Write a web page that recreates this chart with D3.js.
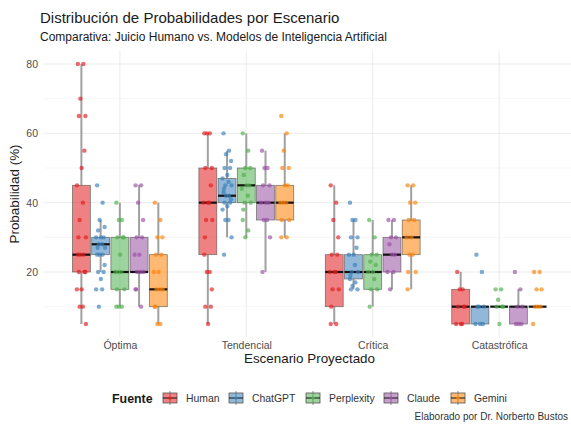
<!DOCTYPE html>
<html>
<head>
<meta charset="utf-8">
<script src="https://cdn.jsdelivr.net/npm/d3@7"></script>
<style>
  body { margin: 0; background: #fff; }
  svg { font-family: "Liberation Sans", Arial, sans-serif; }
</style>
</head>
<body>
<svg id="chart" width="571" height="433"></svg>
<script>
// scenarios and sources
var scenarios = ["Óptima", "Tendencial", "Crítica", "Catastrófica"]
var sources = ["Human", "ChatGPT", "Perplexity", "Claude", "Gemini"]
var colors = ["#E41A1C", "#377EB8", "#4DAF4A", "#984EA3", "#FF7F00"]
var yTicks = [20, 40, 60, 80]

// individual answers per source, one list per scenario
var humanVals = [
  [80,80,70,65,65,55,50,45,40,35,30,30,25,25,25,20,20,20,15,15,10,10,5],
  [60,60,60,50,50,45,40,40,40,35,35,30,25,20,20,15,10,10,5],
  [45,40,35,30,25,25,20,20,20,15,15,10,5,5],
  [20,15,15,10,10,10,5,5,5]
]
var chatgptVals = [
  [45,40,35,33,32,30,30,30,28,28,27,27,25,25,25,22,20,20,18,15,15,10],
  [60,55,54,52,50,50,48,47,46,45,45,44,43,42,42,41,40,40,39,38,35,35,30,25],
  [40,35,35,30,30,27,25,25,22,20,20,19,18,17,16,15,15],
  [25,20,10,10,10,5,5,5]
]
var perplexityVals = [
  [40,35,35,30,30,30,25,20,20,20,15,15,10,10,10],
  [60,55,50,50,48,45,45,44,42,40,40,38,35,32,30],
  [35,30,25,25,23,22,20,20,18,15,15,10],
  [15,15,12,10,10,10,5]
]
var claudeVals = [
  [45,45,40,35,30,30,25,25,20,20,20,15,15,10],
  [55,50,50,45,45,40,40,40,35,35,30,20],
  [35,35,30,30,28,25,25,20,20,15],
  [20,15,10,10,5,5,5]
]
var geminiVals = [
  [40,35,30,30,25,25,20,20,15,15,15,10,10,5,5],
  [65,60,55,50,50,45,45,40,40,40,35,35,30,30],
  [45,45,40,40,35,35,30,30,25,25,20,20,15],
  [20,20,15,15,10,10,10,5]
]

// box summaries: [whisker low, q1, median, q3, whisker high]
var humanBox = [[5,20,25,45,80], [5,25,40,50,60], [5,10,20,25,45], [5,5,10,15,20]]
var chatgptBox = [[20,25,28,30,35], [30,40,42,47,55], [15,18,20,25,35], [5,5,10,10,10]]
var perplexityBox = [[10,15,20,30,40], [30,40,45,50,60], [10,15,20,25,35], [10,10,10,10,10]]
var claudeBox = [[10,20,20,30,45], [20,35,40,45,55], [15,20,25,30,35], [5,5,10,10,15]]
var geminiBox = [[5,10,15,25,40], [30,35,40,45,60], [15,25,30,35,45], [10,10,10,10,10]]

var allVals = [humanVals, chatgptVals, perplexityVals, claudeVals, geminiVals]
var allBoxes = [humanBox, chatgptBox, perplexityBox, claudeBox, geminiBox]

var svg = d3.select("#chart")

var panel = {left: 44, right: 575, top: 51, bottom: 337}

var x = d3.scalePoint().domain(scenarios).range([panel.left, panel.right]).padding(0.6)
var dodge = d3.scaleBand().domain(sources)
  .range([-x.step() * 0.375, x.step() * 0.375]).paddingInner(0.07)
var y = d3.scaleLinear().domain([1.25, 83.75]).range([panel.bottom, panel.top])

// grid
var minor = [10, 30, 50, 70]
svg.selectAll(".minor").data(minor).enter().append("line")
  .attr("x1", panel.left).attr("x2", panel.right)
  .attr("y1", function(d){ return y(d) }).attr("y2", function(d){ return y(d) })
  .style("stroke", "#f2f2f2").style("stroke-width", 0.6)

svg.selectAll(".major").data(yTicks).enter().append("line")
  .attr("x1", panel.left).attr("x2", panel.right)
  .attr("y1", function(d){ return y(d) }).attr("y2", function(d){ return y(d) })
  .style("stroke", "#ebebeb").style("stroke-width", 1)

svg.selectAll(".vgrid").data(scenarios).enter().append("line")
  .attr("x1", function(d){ return x(d) }).attr("x2", function(d){ return x(d) })
  .attr("y1", panel.top).attr("y2", panel.bottom)
  .style("stroke", "#ebebeb").style("stroke-width", 1)

// axes (labels only, theme_minimal style)
var yAxis = svg.append("g").attr("transform", "translate(" + panel.left + ",0)")
  .call(d3.axisLeft(y).tickValues(yTicks).tickSize(0).tickPadding(6))
yAxis.select(".domain").remove()
yAxis.selectAll("text").style("font-size", "10.5px").style("fill", "#4d4d4d")
  .style("font-family", "'Liberation Sans', Arial, sans-serif")

var xAxis = svg.append("g").attr("transform", "translate(0," + panel.bottom + ")")
  .call(d3.axisBottom(x).tickSize(0).tickPadding(5))
xAxis.select(".domain").remove()
xAxis.selectAll("text").style("font-size", "10.5px").style("fill", "#4d4d4d")
  .style("font-family", "'Liberation Sans', Arial, sans-serif")

// boxes
var bw = dodge.bandwidth()
sources.forEach(function(src, si){
  scenarios.forEach(function(sc, ci){
    var b = allBoxes[si][ci]
    var cx = x(sc) + dodge(src) + bw / 2
    var g = svg.append("g")
    // whiskers
    g.append("line").attr("x1", cx).attr("x2", cx)
      .attr("y1", y(b[4])).attr("y2", y(b[3]))
      .style("stroke", "#a0a0a0").style("stroke-width", 2)
    g.append("line").attr("x1", cx).attr("x2", cx)
      .attr("y1", y(b[1])).attr("y2", y(b[0]))
      .style("stroke", "#a0a0a0").style("stroke-width", 2)
    g.append("rect")
      .attr("x", cx - bw / 2).attr("width", bw)
      .attr("y", y(b[3])).attr("height", Math.max(0, y(b[1]) - y(b[3])))
      .style("fill", colors[si]).style("fill-opacity", 0.55)
      .style("stroke", "#555").style("stroke-opacity", 0.75).style("stroke-width", 0.8)
    g.append("line").attr("x1", cx - bw / 2).attr("x2", cx + bw / 2)
      .attr("y1", y(b[2])).attr("y2", y(b[2]))
      .style("stroke", "#111").style("stroke-width", 2.2)
  })
})

// jittered points (fixed offset pattern)
var jit = [-0.7, 0.4, -0.2, 0.8, -0.5, 0.6, 0.05, -0.9, 0.3, -0.35, 0.9, -0.6]
sources.forEach(function(src, si){
  scenarios.forEach(function(sc, ci){
    var cx = x(sc) + dodge(src) + bw / 2
    svg.append("g").selectAll("circle").data(allVals[si][ci]).enter().append("circle")
      .attr("cx", function(d, i){ return cx + jit[i % jit.length] * 5 })
      .attr("cy", function(d){ return y(d) })
      .attr("r", 2.2)
      .style("fill", colors[si]).style("fill-opacity", 0.65)
  })
})

// titles
svg.append("text").attr("x", 40).attr("y", 23)
  .style("font-size", "15px").style("fill", "#1a1a1a")
  .text("Distribución de Probabilidades por Escenario")
svg.append("text").attr("x", 40).attr("y", 40.5)
  .style("font-size", "12px").style("fill", "#1a1a1a")
  .text("Comparativa: Juicio Humano vs. Modelos de Inteligencia Artificial")

svg.append("text").attr("x", (panel.left + panel.right) / 2).attr("y", 363)
  .attr("text-anchor", "middle").style("font-size", "13.4px").style("fill", "#1a1a1a")
  .text("Escenario Proyectado")
svg.append("text")
  .attr("transform", "translate(19," + ((panel.top + panel.bottom) / 2) + ") rotate(-90)")
  .attr("text-anchor", "middle").style("font-size", "13.4px").style("fill", "#1a1a1a")
  .text("Probabilidad (%)")

// legend
var legendX = [162, 228, 305, 383, 450]
var lg = svg.append("g")
lg.append("text").attr("x", 112).attr("y", 402.5)
  .style("font-size", "12.4px").style("font-weight", "bold").style("fill", "#1a1a1a")
  .text("Fuente")
sources.forEach(function(src, si){
  var kx = legendX[si]
  lg.append("line").attr("x1", kx + 8).attr("x2", kx + 8).attr("y1", 391).attr("y2", 405)
    .style("stroke", "#a0a0a0").style("stroke-width", 1.2)
  lg.append("rect").attr("x", kx + 1).attr("y", 393).attr("width", 14).attr("height", 10)
    .style("fill", colors[si]).style("fill-opacity", 0.55)
    .style("stroke", "#555").style("stroke-width", 0.8)
  lg.append("line").attr("x1", kx + 1).attr("x2", kx + 15).attr("y1", 398).attr("y2", 398)
    .style("stroke", "#111").style("stroke-width", 1)
  lg.append("circle").attr("cx", kx + 8).attr("cy", 398).attr("r", 1.6)
    .style("fill", colors[si])
  lg.append("text").attr("x", kx + 24).attr("y", 402)
    .style("font-size", "10.4px").style("fill", "#333")
    .text(src)
})

svg.append("text").attr("x", 568).attr("y", 419.5)
  .attr("text-anchor", "end")
  .style("font-size", "10px").style("fill", "#333")
  .text("Elaborado por Dr. Norberto Bustos")
</script>
</body>
</html>
